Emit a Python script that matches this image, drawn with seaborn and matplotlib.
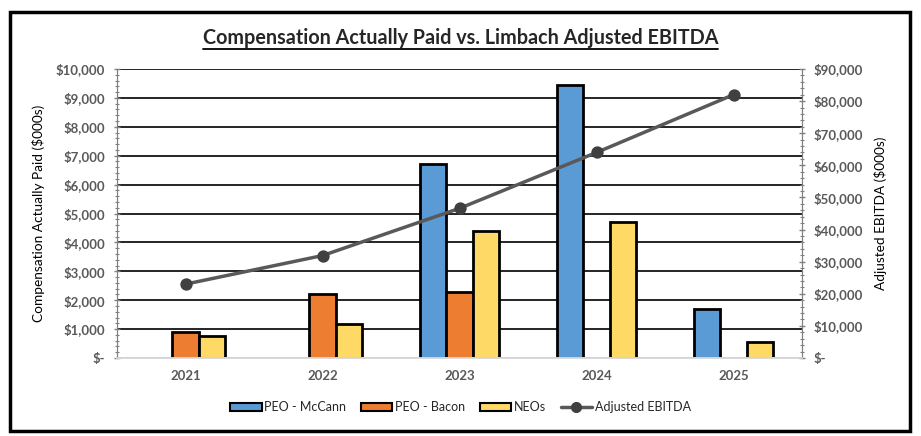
import numpy as np
import pandas as pd
import matplotlib
matplotlib.use('Agg')
import matplotlib.pyplot as plt
import seaborn as sns
from matplotlib.patches import Rectangle, Patch
from matplotlib.lines import Line2D
from matplotlib.ticker import FuncFormatter, MultipleLocator

# data ($000s)
years = ['2021', '2022', '2023', '2024', '2025']
peo_mccann = [np.nan, np.nan, 6700, 9430, 1690]
peo_bacon = [910, 2200, 2270, np.nan, np.nan]
neos = [750, 1180, 4380, 4720, 570]
adj_ebitda = [23000, 31900, 46600, 64000, 82000]

series_names = ['PEO - McCann', 'PEO - Bacon', 'NEOs']
series_colors = ['#5B9BD5', '#ED7D31', '#FFD966']

df = pd.DataFrame({
    'Year': years * 3,
    'Series': [s for s in series_names for _ in years],
    'Value': peo_mccann + peo_bacon + neos,
}).dropna()

sns.set_style('white')
plt.rcParams['font.family'] = ['Lato', 'DejaVu Sans']

fig = plt.figure(figsize=(9.21, 4.36), dpi=100)
ax = fig.add_axes([117 / 921, 1 - 358 / 436, 685 / 921, 289 / 436])

sns.barplot(data=df, x='Year', y='Value', hue='Series', order=years,
            hue_order=series_names, palette=series_colors, saturation=1,
            width=0.58, edgecolor='black', linewidth=2,
            errorbar=None, legend=False, ax=ax)

ax2 = ax.twinx()
sns.pointplot(x=years, y=adj_ebitda, order=years, color='#595959', markers='o',
              linewidth=2.5, markersize=7, ax=ax2)
ax2.lines[0].set_markerfacecolor('#404040')
ax2.lines[0].set_markeredgecolor('#404040')

ax.set_xlim(-0.5, 4.5)
ax.set_ylim(0, 10000)
ax2.set_ylim(0, 90000)

money = FuncFormatter(lambda v, p: '$-' if v == 0 else f'${v:,.0f}')
ax.yaxis.set_major_locator(MultipleLocator(1000))
ax.yaxis.set_minor_locator(MultipleLocator(200))
ax2.yaxis.set_major_locator(MultipleLocator(10000))
ax2.yaxis.set_minor_locator(MultipleLocator(2000))
ax.yaxis.set_major_formatter(money)
ax2.yaxis.set_major_formatter(money)

ax.set_axisbelow(True)
ax.yaxis.grid(True, color='black', linewidth=1.2)
ax.xaxis.grid(False)
ax2.grid(False)
fig.canvas.draw()
ax.yaxis.get_gridlines()[0].set_visible(False)

for a in (ax, ax2):
    a.spines['top'].set_visible(False)
    a.spines['bottom'].set_color('#D9D9D9')
    a.spines['bottom'].set_linewidth(1.2)
    a.spines['left'].set_color('#808080')
    a.spines['right'].set_color('#808080')
    a.tick_params(axis='y', which='major', length=5, width=1, color='#808080',
                  direction='inout', labelsize=9.5, labelcolor='#595959', pad=6)
    a.tick_params(axis='y', which='minor', length=3, width=0.8, color='#808080',
                  direction='inout', left=(a is ax), right=(a is ax2))
    for lbl in a.get_yticklabels():
        lbl.set_fontweight('bold')

ax.tick_params(axis='x', length=0, labelsize=9.5, labelcolor='#595959', pad=9)
for lbl in ax.get_xticklabels():
    lbl.set_fontweight('bold')
ax.set_xlabel('')
ax.set_ylabel('Compensation Actually Paid ($000s)', fontsize=9.8, color='black', labelpad=8)
ax2.set_ylabel('Adjusted EBITDA ($000s)', fontsize=9.8, color='black', labelpad=8)

# title with underline
title = fig.text(0.5, 1 - 38 / 436, 'Compensation Actually Paid vs. Limbach Adjusted EBITDA',
                 ha='center', va='center', fontsize=14.2, fontweight='bold')
fig.canvas.draw()
bb = title.get_window_extent(renderer=fig.canvas.get_renderer())
W, H = fig.bbox.width, fig.bbox.height
uy = (bb.y0 - 1) / H
fig.add_artist(Line2D([bb.x0 / W, bb.x1 / W], [uy, uy], color='black', linewidth=1.3))

# legend
handles = [Patch(facecolor=c, edgecolor='black', linewidth=1.5) for c in series_colors]
handles.append(Line2D([], [], color='#595959', linewidth=2.5, marker='o',
                      markersize=7, markerfacecolor='#404040', markeredgecolor='#404040'))
fig.legend(handles, series_names + ['Adjusted EBITDA'], loc='center',
           bbox_to_anchor=(0.5, 1 - 407 / 436), ncol=4, frameon=False,
           fontsize=9, handlelength=2.5, handleheight=0.6, columnspacing=1.2,
           handletextpad=0.2)

# outer border
fig.add_artist(Rectangle((10 / 921, 1 - 431 / 436), 900 / 921, 419 / 436,
                         transform=fig.transFigure, fill=False,
                         edgecolor='black', linewidth=2.5))

fig.savefig('out.png', dpi=100)
